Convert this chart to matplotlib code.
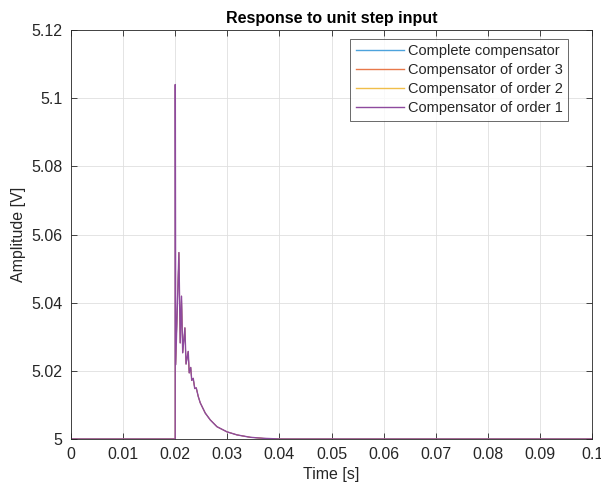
import matplotlib
matplotlib.use("Agg")
import matplotlib.pyplot as plt
import numpy as np

# step response (all four compensators coincide)
time = [0.0, 0.0200, 0.02002, 0.02006, 0.02009, 0.02071, 0.02096, 0.02121,
        0.02144, 0.02186, 0.02208, 0.0225, 0.02269, 0.02298, 0.02317,
        0.02346, 0.02375, 0.02404, 0.02442, 0.02481, 0.02577, 0.02673,
        0.02802, 0.02994, 0.03187, 0.03442, 0.03692, 0.0402, 0.1]
resp = [5.0, 5.0, 5.104, 5.061, 5.0218, 5.0547, 5.0282, 5.0419,
        5.0253, 5.0326, 5.0220, 5.0257, 5.0194, 5.0210, 5.0172,
        5.0178, 5.0148, 5.0150, 5.0125, 5.0106, 5.0076, 5.0056,
        5.0036, 5.0021, 5.0012, 5.0005, 5.0002, 5.0, 5.0]

labels = ["Complete compensator", "Compensator of order 3",
          "Compensator of order 2", "Compensator of order 1"]
colors = ["#4DA3DC", "#E8794A", "#F0BE4A", "#8E4A9E"]
widths = [0.6, 0.6, 0.6, 1.0]

xticks = np.arange(0, 0.1001, 0.01)
xticklabels = ["0", "0.01", "0.02", "0.03", "0.04", "0.05", "0.06", "0.07", "0.08", "0.09", "0.1"]
yticks = [5, 5.02, 5.04, 5.06, 5.08, 5.1, 5.12]
yticklabels = ["5", "5.02", "5.04", "5.06", "5.08", "5.1", "5.12"]

plt.rcParams['font.family'] = ['Liberation Sans', 'DejaVu Sans']
txt = "#262626"

fig = plt.figure(figsize=(6.01, 4.93), dpi=100)
ax = fig.add_axes([71/601, 1 - 439/493, 521/601, 409/493])

lines = []
for lab, c, w in zip(labels, colors, widths):
    ln, = ax.plot(time, resp, color=c, lw=w, label=lab)
    lines.append(ln)

ax.set_xlim(0, 0.1)
ax.set_ylim(5, 5.12)
ax.set_xticks(xticks)
ax.set_xticklabels(xticklabels)
ax.set_yticks(yticks)
ax.set_yticklabels(yticklabels)
ax.tick_params(direction='in', top=True, right=True, length=4, width=0.6,
               colors="#262626", labelsize=11.5, pad=6)
ax.grid(True, color="#DFDFDF", lw=0.6)
ax.set_axisbelow(True)
for s in ax.spines.values():
    s.set_color("#262626")
    s.set_linewidth(0.6)

ax.set_xlabel("Time [s]", fontsize=11.5, color=txt, labelpad=3)
ax.set_ylabel("Amplitude [V]", fontsize=11.5, color=txt, labelpad=4)
ax.set_title("Response to unit step input", fontsize=11.5, fontweight='bold', color="black", pad=5)

leg = ax.legend(loc='upper right', bbox_to_anchor=((568 - 71) / 521, (439 - 39) / 409),
                borderaxespad=0, fontsize=10.5, frameon=True, fancybox=False,
                edgecolor="#262626", borderpad=0.35, labelspacing=0.35,
                handlelength=3.3, handletextpad=0.3)
leg.get_frame().set_linewidth(0.6)
for t in leg.get_texts():
    t.set_color(txt)
for h in leg.get_lines():
    h.set_linewidth(1.0)

fig.savefig("out.png", dpi=100)
